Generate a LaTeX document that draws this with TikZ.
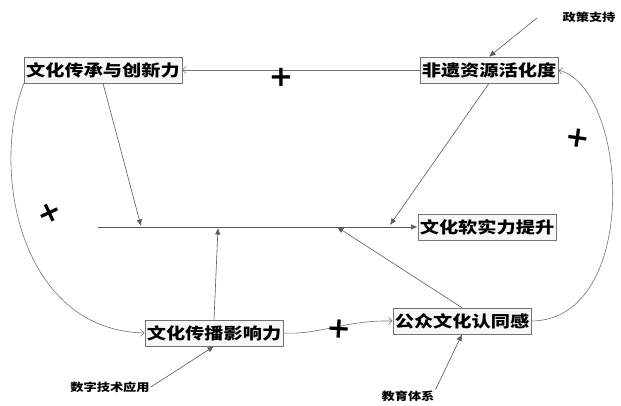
\documentclass[tikz,border=0pt]{standalone}
\usepackage{fontspec}
\newfontfamily\cjk{Noto Sans CJK SC}[FakeStretch=1.2]
\newfontfamily\signfont{DejaVu Sans}
\usetikzlibrary{arrows.meta,shadows}
\begin{document}
\begin{tikzpicture}[x=1pt, y=-1pt,
  box/.style={draw=black!55, fill=black!3, line width=0.6pt, minimum width=138,
    minimum height=26, inner sep=2pt, font=\cjk\bfseries\fontsize{16}{16}\selectfont,
    drop shadow={shadow xshift=1.2pt, shadow yshift=-1.2pt, fill=black!30}},
  src/.style={font=\cjk\bfseries\fontsize{11}{12}\selectfont, inner sep=1pt},
  link/.style={draw=black!65, line width=0.6pt, -{Latex[length=6.5pt,width=5.5pt]}},
  loopback/.style={draw=black!55, line width=0.6pt, -{Straight Barb[length=3.5pt,width=7pt]}},
  sign/.style={font=\signfont\bfseries\fontsize{29}{29}\selectfont, inner sep=0pt}]
  \useasboundingbox (0,0) rectangle (621,405);
  % factors
  \node[box, minimum width=157] (chuancheng) at (103,70) {文化传承与创新力};
  \node[box] (huohua) at (489,70) {非遗资源活化度};
  \node[box, minimum width=136] (ruanshili) at (487,227) {文化软实力提升};
  \node[box] (chuanbo) at (214,333) {文化传播影响力};
  \node[box] (rentong) at (462,321) {公众文化认同感};
  % outside drivers
  \node[src] (zhengce) at (589,17) {政策支持};
  \node[src] (shuzi) at (110,387) {数字技术应用};
  \node[src] (jiaoyu) at (408,396) {教育体系};
  % main axis
  \coordinate (axis) at (98,227);
  \coordinate (inA) at (141,226);
  \coordinate (inB) at (218,228);
  \coordinate (inC) at (337,227);
  \coordinate (inD) at (390,225);
  \coordinate (zc) at (537,18);
  \draw[link] (axis) -- (ruanshili.west);
  \draw[link] (chuancheng.south) -- (inA);
  \draw[link] (chuanbo.north) -- (inB);
  \draw[link] (rentong.north) -- (inC);
  \draw[link] (huohua.south) -- (inD);
  \draw[link] (zc) -- (huohua.north);
  \draw[link] (shuzi.east) -- (chuanbo.south);
  \draw[link] (jiaoyu.north east) -- (rentong.south);
  % reinforcing loop
  \draw[loopback] (huohua.west) -- (chuancheng.east);
  \draw[loopback] (chuancheng.south west) .. controls (-10,170) and (20,330) .. (chuanbo.west);
  \draw[loopback] (chuanbo.east) .. controls (320,335) and (345,320) .. (rentong.west);
  \draw[loopback] (rentong.east) .. controls (640,320) and (630,90) .. (huohua.east);
  \foreach \px/\py/\r [count=\i] in {281/77/0, 50/213/25, 339/329/-3, 578/138/-8}
    \node[sign, rotate=\r] (plus\i) at (\px,\py) {+};
\end{tikzpicture}
\end{document}
